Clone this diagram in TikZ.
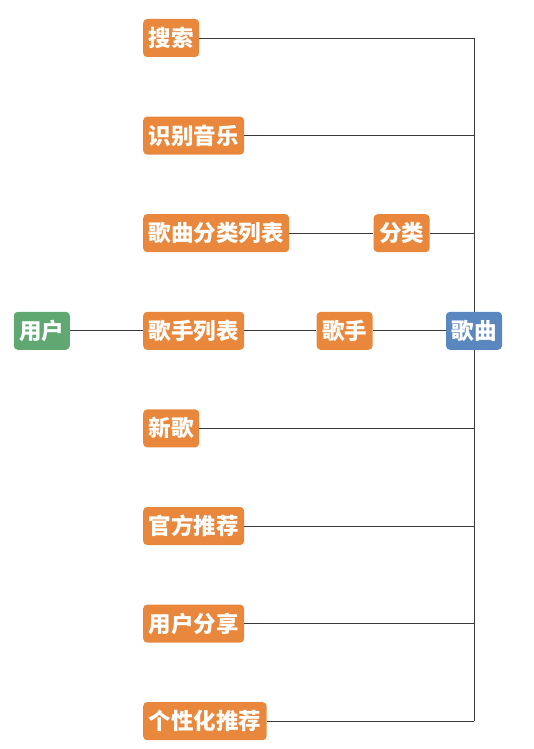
\documentclass[tikz,border=0pt]{standalone}
\usepackage{fontspec}
\usepackage{xcolor}
\usepackage{tikz}
\usetikzlibrary{positioning, backgrounds}
\newfontfamily\cjk{Noto Sans CJK SC}

\definecolor{naranja}{HTML}{E9873D}
\definecolor{verde}{HTML}{5FA872}
\definecolor{azul}{HTML}{5B87C0}
\definecolor{linea}{HTML}{3A3A3A}

\begin{document}
\begin{tikzpicture}[
    x=1pt, y=-1pt,
    % Distancias entre filas y columnas
    node distance=59pt and 84pt,
    % Estilo base de las cajas
    box/.style = {
        rectangle,
        rounded corners=4pt,
        text=white,
        inner xsep=5.5pt,
        inner ysep=0pt,
        minimum height=38pt,
        text height=19pt,
        text depth=2pt,
        font=\cjk\bfseries\fontsize{22.5}{23}\selectfont
    },
    % Estilo para las funciones (Naranja)
    item/.style = {box, fill=naranja},
    % Estilo para el usuario (Verde)
    user/.style = {box, fill=verde},
    % Estilo para la cancion (Azul)
    song/.style = {box, fill=azul},
    % Estilo de las lineas
    connection/.style = {draw=linea, line width=0.8pt}
]
    \useasboundingbox (0,0) rectangle (533,749);

    % --- NODOS ---

    % 1. Columna de funciones (alineada a la izquierda)
    \node [item, anchor=west] (search) at (143,38) {搜索};
    \node [item, below=59.2pt of search.south west, anchor=north west] (recog) {识别音乐};
    \node [item, below=59.2pt of recog.south west, anchor=north west] (catlist) {歌曲分类列表};
    \node [item, below=59.2pt of catlist.south west, anchor=north west] (singerlist) {歌手列表};
    \node [item, below=59.2pt of singerlist.south west, anchor=north west] (newsong) {新歌};
    \node [item, below=59.2pt of newsong.south west, anchor=north west] (official) {官方推荐};
    \node [item, below=59.2pt of official.south west, anchor=north west] (share) {用户分享};
    \node [item, below=59.2pt of share.south west, anchor=north west] (personal) {个性化推荐};

    % 2. Usuario a la izquierda
    \node [user, left=73pt of singerlist] (user) {用户};

    % 3. Nodos intermedios
    \node [item, right=84pt of catlist] (category) {分类};
    \node [item, right=72pt of singerlist] (singer) {歌手};

    % 4. Cancion a la derecha
    \node [song, right=73pt of singer] (music) {歌曲};

    % --- CONEXIONES ---
    \begin{scope}[on background layer]
        % Linea vertical comun
        \draw [connection] (search.east -| music) -- (personal.east -| music);

        % Fila del usuario
        \draw [connection] (user) -- (singerlist);
        \draw [connection] (singerlist) -- (singer);
        \draw [connection] (singer) -- (music);

        % Fila de categorias
        \draw [connection] (catlist) -- (category);
        \draw [connection] (category) -- (category -| music);

        % Resto de filas hacia la linea vertical
        \draw [connection] (search) -- (search -| music);
        \draw [connection] (recog) -- (recog -| music);
        \draw [connection] (newsong) -- (newsong -| music);
        \draw [connection] (official) -- (official -| music);
        \draw [connection] (share) -- (share -| music);
        \draw [connection] (personal) -- (personal -| music);
    \end{scope}

\end{tikzpicture}
\end{document}
